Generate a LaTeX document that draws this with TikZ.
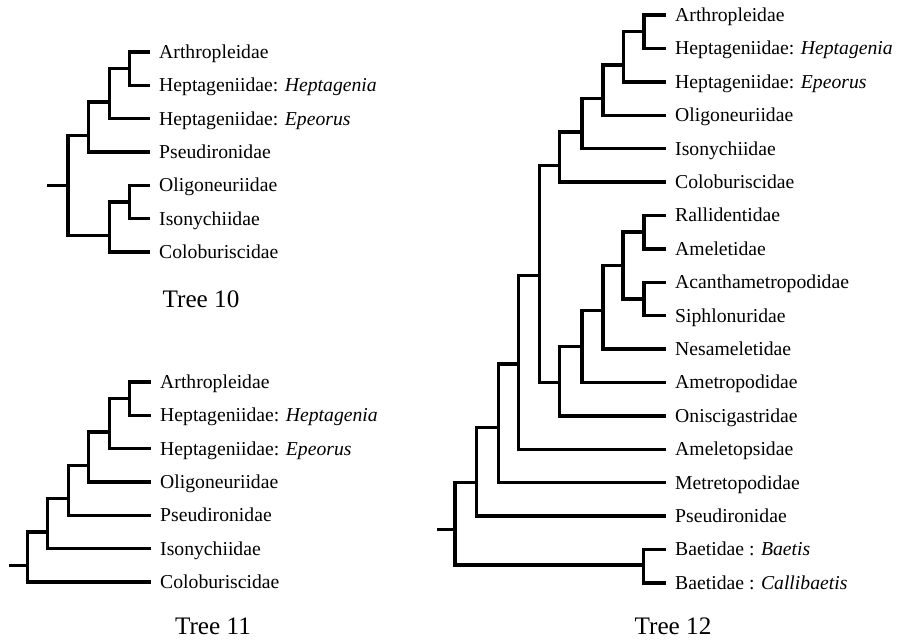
\documentclass[tikz,border=0pt]{standalone}
\usepackage{fontspec}
\setmainfont{Liberation Serif}
\usetikzlibrary{positioning}
\tikzset{
  br/.style={line width=2.9pt,line join=miter},
  leaf/.style={anchor=west,inner xsep=2.7mm,inner ysep=0pt,text height=11.2pt,text depth=0pt,
    font=\fontsize{16.8}{19}\selectfont},
  ttl/.style={inner sep=0pt,font=\fontsize{21.5}{24}\selectfont},
}

\begin{document}
\begin{tikzpicture}[x=0.3mm,y=-0.3mm]
\useasboundingbox (0,0) rectangle (900,642);
% Tree 10
\begin{scope}[yshift=-15.6mm,y=-10mm]
\foreach \nm/\txt [count=\i from 0] in {ar/Arthropleidae,hh/{Heptageniidae: \textit{Heptagenia}},
    he/{Heptageniidae: \textit{Epeorus}},ps/Pseudironidae,ol/Oligoneuriidae,is/Isonychiidae,co/Coloburiscidae}
  \node[leaf] (t10-\nm) at (150,\i) {\txt};
\coordinate (t10-A) at (129.5,0.5);
\coordinate (t10-B) at (109.5,1.5);
\coordinate (t10-C) at (88.5,2.5);
\coordinate (t10-E) at (129.5,4.5);
\coordinate (t10-F) at (109.5,5.5);
\coordinate (t10-R) at (68,4);
\coordinate (t10-S) at (47,4);
\draw[br] (t10-ar.west) -| (t10-A) |- (t10-hh.west);
\draw[br] (t10-A) -| (t10-B) |- (t10-he.west);
\draw[br] (t10-B) -| (t10-C) |- (t10-ps.west);
\draw[br] (t10-ol.west) -| (t10-E) |- (t10-is.west);
\draw[br] (t10-E) -| (t10-F) |- (t10-co.west);
\draw[br] (t10-C) -| (t10-R) |- (t10-F);
\draw[br] (t10-S) -- (t10-R);
\end{scope}
\node[ttl] (t10) at (201,299) {Tree 10};

% Tree 11
\begin{scope}[yshift=-114.6mm,y=-10mm]
\foreach \nm/\txt [count=\i from 0] in {ar/Arthropleidae,hh/{Heptageniidae: \textit{Heptagenia}},
    he/{Heptageniidae: \textit{Epeorus}},ol/Oligoneuriidae,ps/Pseudironidae,is/Isonychiidae,co/Coloburiscidae}
  \node[leaf] (t11-\nm) at (151,\i) {\txt};
\coordinate (t11-A) at (129.5,0.5);
\coordinate (t11-B) at (109.5,1.5);
\coordinate (t11-C) at (88.8,2.5);
\coordinate (t11-D) at (68.3,3.5);
\coordinate (t11-E) at (47.7,4.5);
\coordinate (t11-F) at (27.7,5.5);
\coordinate (t11-S) at (9.3,5.5);
\draw[br] (t11-ar.west) -| (t11-A) |- (t11-hh.west);
\draw[br] (t11-A) -| (t11-B) |- (t11-he.west);
\draw[br] (t11-B) -| (t11-C) |- (t11-ol.west);
\draw[br] (t11-C) -| (t11-D) |- (t11-ps.west);
\draw[br] (t11-D) -| (t11-E) |- (t11-is.west);
\draw[br] (t11-E) -| (t11-F) |- (t11-co.west);
\draw[br] (t11-S) -- (t11-F);
\end{scope}
\node[ttl] (t11) at (213,626) {Tree 11};

% Tree 12
\begin{scope}[yshift=-4.5mm,y=-10.02mm]
\foreach \nm/\txt [count=\i from 0] in {ar/Arthropleidae,hh/{Heptageniidae: \textit{Heptagenia}},
    he/{Heptageniidae: \textit{Epeorus}},ol/Oligoneuriidae,is/Isonychiidae,co/Coloburiscidae,
    ra/Rallidentidae,am/Ameletidae,ac/Acanthametropodidae,si/Siphlonuridae,ne/Nesameletidae,
    at/Ametropodidae,on/Oniscigastridae,ao/Ameletopsidae,me/Metretopodidae,ps/Pseudironidae,
    bb/{Baetidae : \textit{Baetis}},bc/{Baetidae : \textit{Callibaetis}}}
  \node[leaf] (t12-\nm) at (666,\i) {\txt};
\coordinate (t12-A) at (644,0.5);
\coordinate (t12-B) at (623.5,1.5);
\coordinate (t12-C) at (603,2.5);
\coordinate (t12-D) at (582,3.5);
\coordinate (t12-E) at (559.5,4.5);
\coordinate (t12-G) at (644,6.5);
\coordinate (t12-H) at (644,8.5);
\coordinate (t12-I) at (623,7.5);
\coordinate (t12-J) at (603,8.85);
\coordinate (t12-K) at (582,9.93);
\coordinate (t12-L) at (559.5,11);
\coordinate (t12-M) at (539.3,7.8);
\coordinate (t12-N) at (518.3,10.45);
\coordinate (t12-O) at (498.5,12.35);
\coordinate (t12-P) at (476.5,14);
\coordinate (t12-Q) at (643.5,16.47);
\coordinate (t12-R) at (455,15.4);
\coordinate (t12-S) at (437.3,15.4);
\draw[br] (t12-ar.west) -| (t12-A) |- (t12-hh.west);
\draw[br] (t12-A) -| (t12-B) |- (t12-he.west);
\draw[br] (t12-B) -| (t12-C) |- (t12-ol.west);
\draw[br] (t12-C) -| (t12-D) |- (t12-is.west);
\draw[br] (t12-D) -| (t12-E) |- (t12-co.west);
\draw[br] (t12-ra.west) -| (t12-G) |- (t12-am.west);
\draw[br] (t12-ac.west) -| (t12-H) |- (t12-si.west);
\draw[br] (t12-G) -| (t12-I) |- (t12-H);
\draw[br] (t12-I) -| (t12-J) |- (t12-ne.west);
\draw[br] (t12-J) -| (t12-K) |- (t12-at.west);
\draw[br] (t12-K) -| (t12-L) |- (t12-on.west);
\draw[br] (t12-E) -| (t12-M) |- (t12-L);
\draw[br] (t12-M) -| (t12-N) |- (t12-ao.west);
\draw[br] (t12-N) -| (t12-O) |- (t12-me.west);
\draw[br] (t12-O) -| (t12-P) |- (t12-ps.west);
\draw[br] (t12-bb.west) -| (t12-Q) |- (t12-bc.west);
\draw[br] (t12-P) -| (t12-R) |- (t12-Q);
\draw[br] (t12-S) -- (t12-R);
\end{scope}
\node[ttl] (t12) at (673,626) {Tree 12};
\end{tikzpicture}
\end{document}
